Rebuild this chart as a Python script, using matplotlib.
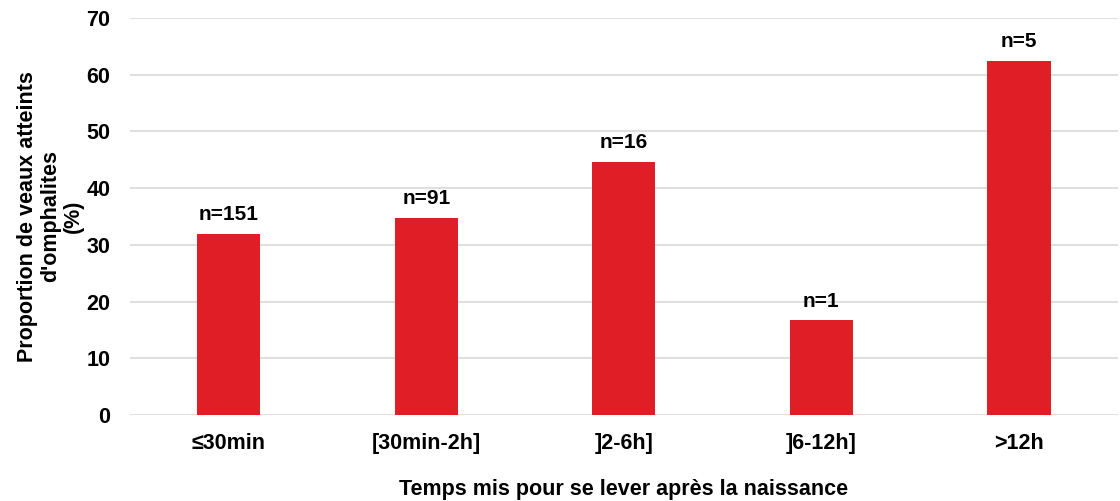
import matplotlib
matplotlib.use("Agg")
from matplotlib import pyplot as plt
import numpy as np

categories = ["≤30min", "[30min-2h]", "]2-6h]", "]6-12h]", ">12h"]
proportions = [31.9, 34.8, 44.6, 16.7, 62.5]
counts = ["n=151", "n=91", "n=16", "n=1", "n=5"]
y_ticks = [0, 10, 20, 30, 40, 50, 60, 70]

plt.rcParams["font.family"] = ["Liberation Sans", "DejaVu Sans"]
plt.rcParams["font.weight"] = "bold"

fig = plt.figure(figsize=(11.2, 5.01), dpi=100)
ax = fig.add_axes([0.116, 0.1717, 0.882, 0.7924])

x = np.arange(len(categories))
bars = ax.bar(x, proportions, width=0.32, color="#e01e25", zorder=3)

for bar, label in zip(bars, counts):
    ax.annotate(label, (bar.get_x() + bar.get_width() / 2, bar.get_height()),
                xytext=(0, 7), textcoords="offset points",
                ha="center", va="bottom", fontsize=15, fontweight="bold")

ax.set_xlim(-0.5, len(categories) - 0.5)
ax.set_ylim(0, 70)
ax.set_yticks(y_ticks)
ax.set_xticks(x)
ax.set_xticklabels(categories)
ax.tick_params(axis="both", length=0, labelsize=15.5)
ax.tick_params(axis="x", pad=13)
ax.tick_params(axis="y", pad=14)
ax.yaxis.grid(True, color="#d9d9d9", linewidth=1.2, zorder=0)
for spine in ax.spines.values():
    spine.set_visible(False)

ax.set_xlabel("Temps mis pour se lever après la naissance", fontsize=15.5,
              fontweight="bold", labelpad=18)
ax.set_ylabel("Proportion de veaux atteints\nd'omphalites\n(%)", fontsize=15.5,
              fontweight="bold", labelpad=2, multialignment="center",
              linespacing=1.1)

fig.savefig("out.png", dpi=100)
